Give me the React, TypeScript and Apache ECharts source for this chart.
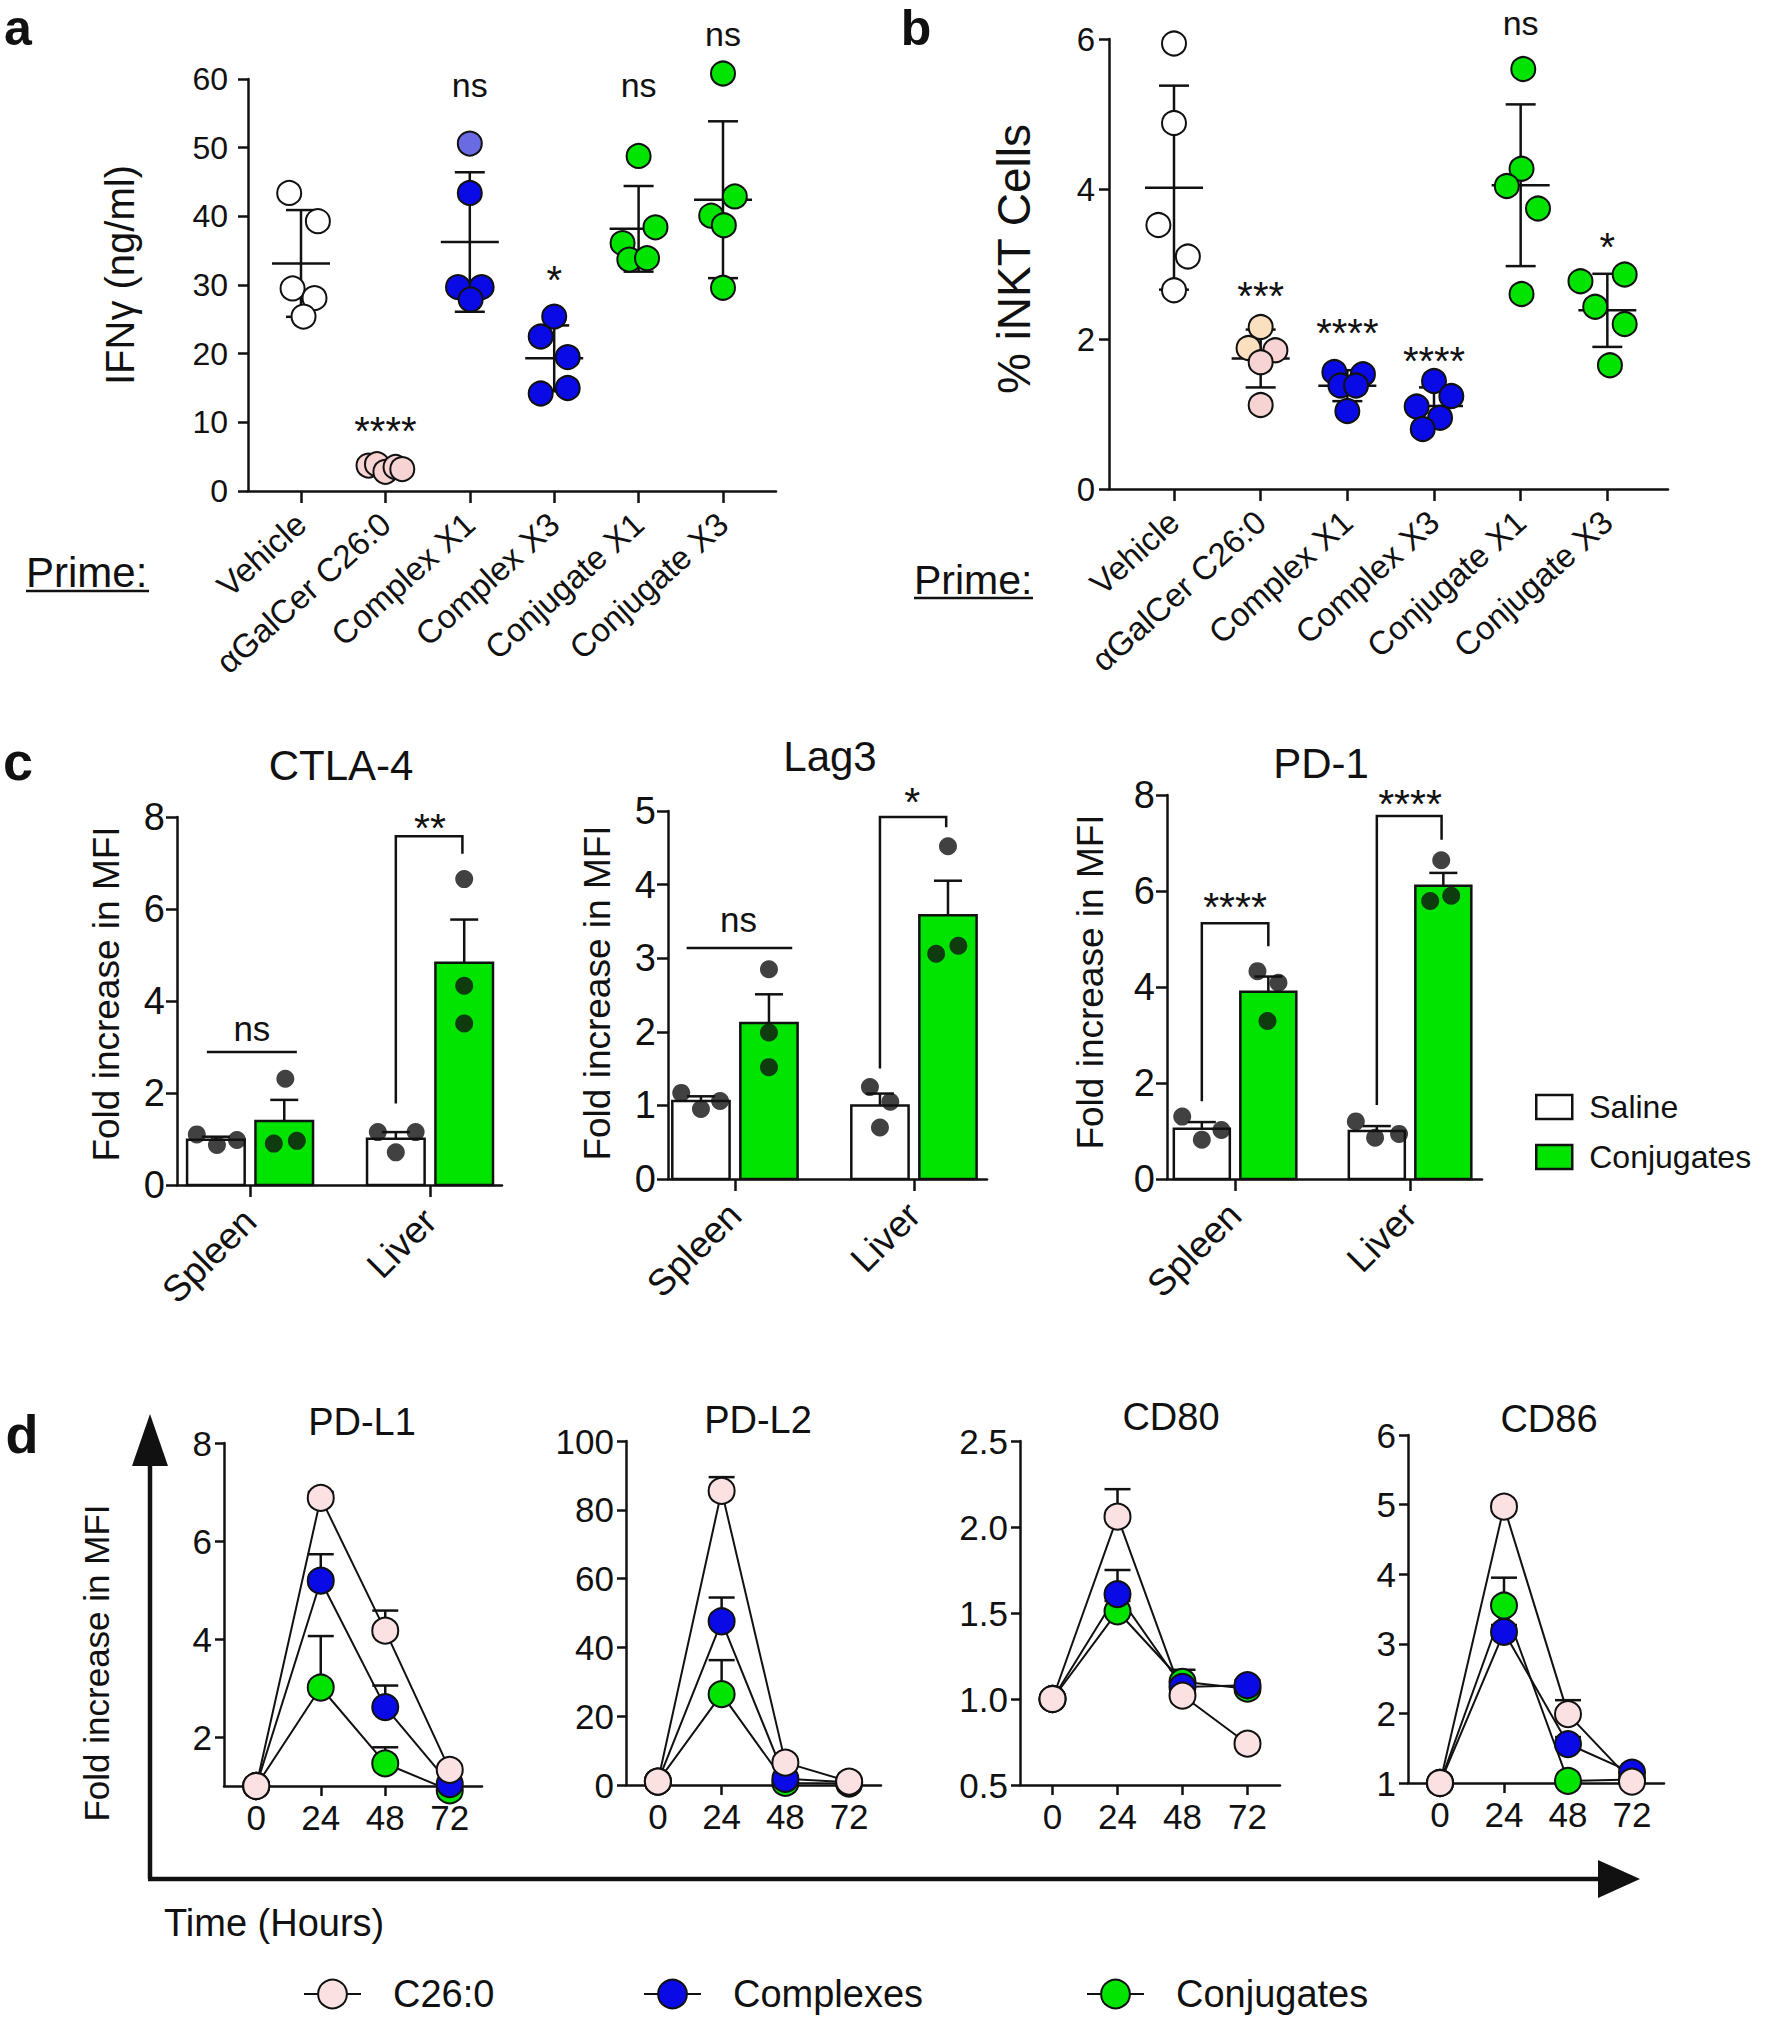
import React, { useEffect, useRef } from 'react';
import * as echarts from 'echarts';

const FONT = '"Liberation Sans", Arial, Helvetica, sans-serif';
const BLACK = '#111111';
const GREEN = '#00e400';
const BLUE = '#0a0ae6';
const LIGHT_BLUE = '#6a6ae2';
const PINK = '#fbe1e1';
const GALCER_PINK = '#f7d3d3';
const CREAM = '#fbe0bf';

// ===== Panel a : IFNγ (ng/ml) =====
const primeCategories = ['Vehicle', 'αGalCer C26:0', 'Complex X1', 'Complex X3', 'Conjugate X1', 'Conjugate X3'];
const ifngVehicle = [43.4, 39.3, 29.5, 28.1, 25.4];
const ifngGalCer = [3.7, 3.9, 2.8, 3.5, 3.2];
const ifngComplexX1 = [50.6, 43.4, 29.7, 29.7, 27.9];
const ifngComplexX3 = [25.4, 22.5, 19.5, 15.0, 14.2];
const ifngConjugateX1 = [48.8, 38.4, 36.1, 33.7, 33.9];
const ifngConjugateX3 = [60.8, 42.9, 40.1, 38.7, 29.6];
const ifngJitter = [
  [-0.14, 0.2, -0.1, 0.16, 0.03],
  [-0.2, -0.1, 0.0, 0.12, 0.2],
  [0, 0, -0.14, 0.14, 0.01],
  [0, -0.16, 0.16, 0.16, -0.16],
  [0, 0.2, -0.19, -0.11, 0.1],
  [0, 0.14, -0.14, 0.01, 0],
];
const ifngSigText = ['****', 'ns', '*', 'ns', 'ns'];
const ifngSigAt = [[1, 10.0], [2, 59.1], [3, 32.0], [4, 59.1], [5, 66.5]];

// ===== Panel b : % iNKT cells =====
const inktVehicle = [5.94, 4.88, 3.52, 3.1, 2.65];
const inktGalCer = [2.16, 1.88, 1.85, 1.69, 1.12];
const inktComplexX1 = [1.56, 1.53, 1.38, 1.38, 1.04];
const inktComplexX3 = [1.44, 1.24, 1.1, 0.95, 0.8];
const inktConjugateX1 = [5.6, 4.27, 4.04, 3.74, 2.6];
const inktConjugateX3 = [2.77, 2.86, 2.43, 2.2, 1.65];
const inktJitter = [
  [0, 0, -0.18, 0.16, 0],
  [0, -0.14, 0.17, 0, 0],
  [-0.15, 0.18, -0.08, 0.1, 0],
  [0, 0.2, -0.2, 0.07, -0.13],
  [0.03, 0.01, -0.16, 0.2, 0.01],
  [-0.31, 0.2, -0.14, 0.2, 0.03],
];
const inktSigText = ['***', '****', '****', 'ns', '*'];
const inktSigAt = [[1, 2.69], [2, 2.2], [3, 1.82], [4, 6.22], [5, 3.34]];

// ===== Panel c : fold increase in MFI (Saline vs Conjugates) =====
const tissues = ['Spleen', 'Liver'];
const ctla4SpleenSaline = [1.1, 0.87, 0.98];
const ctla4SpleenConj = [2.31, 0.9, 0.96];
const ctla4LiverSaline = [1.15, 0.71, 1.15];
const ctla4LiverConj = [6.65, 4.33, 3.51];
const ctla4Jitter = [[-0.106, 0.006, 0.117], [0.006, -0.058, 0.07], [-0.1, 0.0, 0.11], [0, 0, 0]];
const ctla4Brackets = [[0.81, 1.77, 7.58, 1.18, 7.2]];
const ctla4NsLines = [[-0.24, 0.26, 2.89]];
const ctla4SigText = ['ns', '**'];
const ctla4SigAt = [[0.01, 3.4], [1.0, 7.96]];

const lag3SpleenSaline = [1.17, 0.95, 1.06];
const lag3SpleenConj = [2.85, 1.99, 1.52];
const lag3LiverSaline = [1.25, 0.7, 1.05];
const lag3LiverConj = [4.52, 3.06, 3.17];
const lag3Jitter = [[-0.11, 0, 0.107], [0, 0, 0], [-0.056, 0, 0.058], [0, -0.066, 0.058]];
const lag3Brackets = [[0.81, 1.5, 4.92, 1.18, 4.78]];
const lag3NsLines = [[-0.27, 0.32, 3.14]];
const lag3SigText = ['ns', '*'];
const lag3SigAt = [[0.02, 3.52], [0.99, 5.25]];

const pd1SpleenSaline = [1.3, 0.82, 1.02];
const pd1SpleenConj = [4.33, 4.09, 3.29];
const pd1LiverSaline = [1.2, 0.86, 0.94];
const pd1LiverConj = [6.64, 5.79, 5.9];
const pd1Jitter = [[-0.112, 0, 0.112], [-0.062, 0.058, -0.005], [-0.12, -0.01, 0.127], [-0.012, -0.075, 0.045]];
const pd1Brackets = [[-0.19, 1.62, 5.33, 0.19, 4.85], [0.81, 1.54, 7.56, 1.18, 7.07]];
const pd1NsLines: number[][] = [];
const pd1SigText = ['****', '****'];
const pd1SigAt = [[0, 5.85], [1.0, 8.0]];

// ===== Panel d : time course (mean, SEM) =====
const hours = ['0', '24', '48', '72'];
const pdl1C26 = [1, 6.88, 4.17, 1.33];
const pdl1C26Err = [0, 0.12, 0.41, 0.08];
const pdl1Complexes = [1, 5.19, 2.61, 1.04];
const pdl1ComplexesErr = [0, 0.54, 0.44, 0.05];
const pdl1Conjugates = [1, 3.01, 1.46, 0.91];
const pdl1ConjugatesErr = [0, 1.05, 0.33, 0.05];

const pdl2C26 = [1, 85.5, 6.5, 1];
const pdl2C26Err = [0, 4, 1, 0];
const pdl2Complexes = [1, 47.6, 1.8, 0.8];
const pdl2ComplexesErr = [0, 6.9, 0.5, 0];
const pdl2Conjugates = [1, 26.4, 0.6, 0.4];
const pdl2ConjugatesErr = [0, 9.9, 0.3, 0];

const cd80C26 = [1, 2.06, 1.02, 0.74];
const cd80C26Err = [0, 0.16, 0.03, 0.02];
const cd80Complexes = [1, 1.61, 1.07, 1.08];
const cd80ComplexesErr = [0, 0.14, 0.04, 0.03];
const cd80Conjugates = [1, 1.51, 1.1, 1.06];
const cd80ConjugatesErr = [0, 0.06, 0.07, 0.03];

const cd86C26 = [1, 4.97, 1.99, 1.02];
const cd86C26Err = [0, 0.05, 0.2, 0.02];
const cd86Complexes = [1, 3.17, 1.56, 1.15];
const cd86ComplexesErr = [0, 0.1, 0.1, 0.03];
const cd86Conjugates = [1, 3.55, 1.03, 1.05];
const cd86ConjugatesErr = [0, 0.4, 0.02, 0.02];

// ---------- helpers ----------
function mean(a: number[]): number {
  return a.reduce((s, v) => s + v, 0) / a.length;
}
function sd(a: number[]): number {
  const m = mean(a);
  return Math.sqrt(a.reduce((s, v) => s + (v - m) * (v - m), 0) / (a.length - 1));
}
function sem(a: number[]): number {
  return sd(a) / Math.sqrt(a.length);
}
const font = (size: number, bold = false) => `${bold ? 'bold ' : ''}${size}px ${FONT}`;

function buildOption() {
  const grid: any[] = [];
  const xAxis: any[] = [];
  const yAxis: any[] = [];
  const series: any[] = [];
  const graphic: any[] = [];
  const legend: any[] = [];

  const axisLine = { show: true, onZero: false, lineStyle: { color: BLACK, width: 2.5 } };
  const tick = (length: number, extra: any = {}) => ({
    show: true,
    inside: false,
    length,
    lineStyle: { color: BLACK, width: 2.5 },
    ...extra,
  });
  const label = (fontSize: number, margin: number, extra: any = {}) => ({
    show: true,
    color: BLACK,
    fontSize,
    fontFamily: FONT,
    margin,
    ...extra,
  });
  const noSplit = { show: false };
  const addGrid = (g: any) => {
    grid.push({ ...g, containLabel: false, outerBoundsMode: 'none', show: false });
    return grid.length - 1;
  };
  const lineEl = (x1: number, y1: number, x2: number, y2: number, w = 2.5) => ({
    type: 'line',
    shape: { x1, y1, x2, y2 },
    style: { stroke: BLACK, lineWidth: w, fill: null },
  });
  const textSeries = (xi: number, yi: number, at: number[][], texts: string[], size: number) => ({
    type: 'custom',
    xAxisIndex: xi,
    yAxisIndex: yi,
    z: 6,
    silent: true,
    clip: false,
    data: at,
    renderItem: (params: any, api: any) => {
      const p = api.coord([api.value(0), api.value(1)]);
      const t = texts[params.dataIndex];
      const star = t.charAt(0) === '*';
      const fs = star ? size + 6 : size;
      return {
        type: 'text',
        x: p[0],
        y: p[1] + (star ? fs * 0.22 : 0),
        style: { text: t, textAlign: 'center', textVerticalAlign: 'middle', font: font(fs), fill: BLACK },
      };
    },
  });

  // ---------- scatter (panels a, b) ----------
  const scatterPanel = (cfg: any) => {
    const gi = addGrid(cfg.grid);
    const idx = cfg.categories.map((_: string, i: number) => i);
    const xi =
      xAxis.push({
        gridIndex: gi,
        type: 'value',
        min: cfg.xMin,
        max: cfg.xMax,
        axisLine,
        axisTick: tick(12, { customValues: idx }),
        axisLabel: label(33, cfg.labelMargin, {
          rotate: 42,
          customValues: idx,
          formatter: (v: number) => cfg.categories[Math.round(v)] ?? '',
        }),
        splitLine: noSplit,
      }) - 1;
    const yi =
      yAxis.push({
        gridIndex: gi,
        type: 'value',
        min: cfg.yMin,
        max: cfg.yMax,
        interval: cfg.yInterval,
        axisLine,
        axisTick: tick(10),
        axisLabel: label(cfg.yFont, cfg.yMargin),
        splitLine: noSplit,
      }) - 1;
    series.push({
      type: 'custom',
      xAxisIndex: xi,
      yAxisIndex: yi,
      z: 1,
      silent: true,
      clip: false,
      data: cfg.groups.map((g: number[], i: number) => [i, mean(g), mean(g) - sd(g), mean(g) + sd(g)]),
      renderItem: (_p: any, api: any) => {
        const x = api.value(0);
        const m = api.coord([x, api.value(1)]);
        const lo = api.coord([x, api.value(2)]);
        const hi = api.coord([x, api.value(3)]);
        return {
          type: 'group',
          children: [
            lineEl(m[0], lo[1], m[0], hi[1]),
            lineEl(m[0] - 15, lo[1], m[0] + 15, lo[1]),
            lineEl(m[0] - 15, hi[1], m[0] + 15, hi[1]),
            lineEl(m[0] - 29, m[1], m[0] + 29, m[1]),
          ],
        };
      },
    });
    cfg.groups.forEach((g: number[], i: number) => {
      series.push({
        type: 'scatter',
        xAxisIndex: xi,
        yAxisIndex: yi,
        z: 2,
        symbol: 'circle',
        symbolSize: cfg.symbolSize,
        clip: false,
        itemStyle: { borderColor: BLACK, borderWidth: 2, opacity: 1 },
        data: g.map((v, j) => ({ value: [i + cfg.jitter[i][j], v], itemStyle: { color: cfg.colors[i][j] } })),
      });
    });
    series.push(textSeries(xi, yi, cfg.sigAt, cfg.sigText, 34));
  };

  // ---------- bars (panel c) ----------
  const OFF = 0.19;
  const BAR_W = 0.32;
  const barPanel = (cfg: any) => {
    const gi = addGrid(cfg.grid);
    const xi =
      xAxis.push({
        gridIndex: gi,
        type: 'value',
        min: cfg.xMin,
        max: cfg.xMax,
        axisLine,
        axisTick: tick(12, { customValues: [0, 1] }),
        axisLabel: label(37, cfg.labelMargin, {
          rotate: 45,
          customValues: [0, 1],
          formatter: (v: number) => tissues[Math.round(v)] ?? '',
        }),
        splitLine: noSplit,
      }) - 1;
    const yi =
      yAxis.push({
        gridIndex: gi,
        type: 'value',
        min: 0,
        max: cfg.yMax,
        interval: cfg.yInterval,
        axisLine,
        axisTick: tick(11),
        axisLabel: label(38, 12),
        splitLine: noSplit,
      }) - 1;
    const barRender = (fill: string) => (_p: any, api: any) => {
      const x = api.value(0);
      const v = api.value(1);
      const p1 = api.coord([x - BAR_W / 2, v]);
      const p2 = api.coord([x + BAR_W / 2, 0]);
      return {
        type: 'rect',
        shape: { x: p1[0], y: p1[1], width: p2[0] - p1[0], height: p2[1] - p1[1] },
        style: { fill, stroke: BLACK, lineWidth: 2.5 },
      };
    };
    const sal = [cfg.spleenSaline, cfg.liverSaline];
    const con = [cfg.spleenConj, cfg.liverConj];
    series.push({
      type: 'custom',
      name: 'Saline',
      xAxisIndex: xi,
      yAxisIndex: yi,
      z: 1,
      silent: true,
      itemStyle: { color: '#ffffff', borderColor: BLACK, borderWidth: 2.5 },
      data: sal.map((g: number[], i: number) => [i - OFF, mean(g)]),
      renderItem: barRender('#ffffff'),
    });
    series.push({
      type: 'custom',
      name: 'Conjugates',
      xAxisIndex: xi,
      yAxisIndex: yi,
      z: 1,
      silent: true,
      itemStyle: { color: GREEN, borderColor: BLACK, borderWidth: 2.5 },
      data: con.map((g: number[], i: number) => [i + OFF, mean(g)]),
      renderItem: barRender(GREEN),
    });
    const all: [number, number[]][] = [
      [-OFF, cfg.spleenSaline],
      [OFF, cfg.spleenConj],
      [1 - OFF, cfg.liverSaline],
      [1 + OFF, cfg.liverConj],
    ];
    series.push({
      type: 'custom',
      xAxisIndex: xi,
      yAxisIndex: yi,
      z: 2,
      silent: true,
      clip: false,
      data: all.map(([x, g]) => [x, mean(g), mean(g) + sem(g)]),
      renderItem: (_p: any, api: any) => {
        const x = api.value(0);
        const m = api.coord([x, api.value(1)]);
        const hi = api.coord([x, api.value(2)]);
        return {
          type: 'group',
          children: [lineEl(m[0], m[1], m[0], hi[1]), lineEl(m[0] - 14, hi[1], m[0] + 14, hi[1])],
        };
      },
    });
    series.push({
      type: 'scatter',
      xAxisIndex: xi,
      yAxisIndex: yi,
      z: 3,
      symbol: 'circle',
      symbolSize: 18,
      clip: false,
      itemStyle: { color: BLACK },
      data: all.flatMap(([x, g], k) => g.map((v, j) => [x + cfg.jitter[k][j], v])),
    });
    series.push({
      type: 'custom',
      xAxisIndex: xi,
      yAxisIndex: yi,
      z: 4,
      silent: true,
      clip: false,
      data: cfg.brackets,
      renderItem: (_p: any, api: any) => {
        const xl = api.value(0);
        const y0 = api.value(1);
        const yt = api.value(2);
        const xr = api.value(3);
        const y1 = api.value(4);
        return {
          type: 'polyline',
          shape: { points: [api.coord([xl, y0]), api.coord([xl, yt]), api.coord([xr, yt]), api.coord([xr, y1])] },
          style: { stroke: BLACK, lineWidth: 2.5, fill: null },
        };
      },
    });
    if (cfg.nsLines.length) {
      series.push({
        type: 'custom',
        xAxisIndex: xi,
        yAxisIndex: yi,
        z: 4,
        silent: true,
        clip: false,
        data: cfg.nsLines,
        renderItem: (_p: any, api: any) => {
          const a = api.coord([api.value(0), api.value(2)]);
          const b = api.coord([api.value(1), api.value(2)]);
          return lineEl(a[0], a[1], b[0], b[1]);
        },
      });
    }
    series.push(textSeries(xi, yi, cfg.sigAt, cfg.sigText, 35));
  };

  // ---------- lines (panel d) ----------
  const linePanel = (cfg: any) => {
    const gi = addGrid(cfg.grid);
    const xi =
      xAxis.push({
        gridIndex: gi,
        type: 'category',
        data: hours,
        boundaryGap: true,
        axisLine,
        axisTick: tick(10, { alignWithLabel: true }),
        axisLabel: label(35, 14, { interval: 0 }),
        splitLine: noSplit,
      }) - 1;
    const yExtra: any = {};
    if (cfg.yInterval) yExtra.interval = cfg.yInterval;
    const yi =
      yAxis.push({
        gridIndex: gi,
        type: 'value',
        min: cfg.yMin,
        max: cfg.yMax,
        ...yExtra,
        axisLine,
        axisTick: tick(9, cfg.yTicks ? { customValues: cfg.yTicks } : {}),
        axisLabel: label(35, 12, {
          ...(cfg.yTicks ? { customValues: cfg.yTicks } : {}),
          ...(cfg.yFormatter ? { formatter: cfg.yFormatter } : {}),
        }),
        splitLine: noSplit,
      }) - 1;
    const sets = [
      { name: 'Conjugates (d)', mean: cfg.conj, err: cfg.conjErr, color: GREEN },
      { name: 'Complexes', mean: cfg.cplx, err: cfg.cplxErr, color: BLUE },
      { name: 'C26:0', mean: cfg.c26, err: cfg.c26Err, color: PINK },
    ];
    series.push({
      type: 'custom',
      xAxisIndex: xi,
      yAxisIndex: yi,
      z: 1,
      silent: true,
      clip: false,
      data: sets.flatMap((s) =>
        s.mean.map((m: number, t: number) => [t, m, m + s.err[t]]).filter((d: number[]) => d[2] > d[1])
      ),
      renderItem: (_p: any, api: any) => {
        const x = api.value(0);
        const m = api.coord([x, api.value(1)]);
        const hi = api.coord([x, api.value(2)]);
        return {
          type: 'group',
          children: [lineEl(m[0], m[1], m[0], hi[1]), lineEl(m[0] - 13, hi[1], m[0] + 13, hi[1])],
        };
      },
    });
    sets.forEach((s) =>
      series.push({
        type: 'line',
        name: s.name,
        xAxisIndex: xi,
        yAxisIndex: yi,
        z: 2,
        clip: false,
        data: s.mean,
        symbol: 'circle',
        symbolSize: 26,
        showSymbol: true,
        lineStyle: { color: BLACK, width: 2 },
        itemStyle: { color: s.color, borderColor: BLACK, borderWidth: 2 },
      })
    );
  };

  // ===== Panel a =====
  scatterPanel({
    grid: { left: 248, top: 79, width: 528, height: 412 },
    xMin: -0.628,
    xMax: 5.628,
    yMin: 0,
    yMax: 60,
    yInterval: 10,
    yFont: 32,
    yMargin: 20,
    labelMargin: 28,
    categories: primeCategories,
    groups: [ifngVehicle, ifngGalCer, ifngComplexX1, ifngComplexX3, ifngConjugateX1, ifngConjugateX3],
    jitter: ifngJitter,
    symbolSize: 24,
    colors: [
      Array(5).fill('#ffffff'),
      Array(5).fill(GALCER_PINK),
      [LIGHT_BLUE, BLUE, BLUE, BLUE, BLUE],
      Array(5).fill(BLUE),
      Array(5).fill(GREEN),
      Array(5).fill(GREEN),
    ],
    sigAt: ifngSigAt,
    sigText: ifngSigText,
  });

  // ===== Panel b =====
  scatterPanel({
    grid: { left: 1109, top: 39, width: 559, height: 450 },
    xMin: -0.75,
    xMax: 5.7,
    yMin: 0,
    yMax: 6,
    yInterval: 2,
    yFont: 33,
    yMargin: 14,
    labelMargin: 28,
    categories: primeCategories,
    groups: [inktVehicle, inktGalCer, inktComplexX1, inktComplexX3, inktConjugateX1, inktConjugateX3],
    jitter: inktJitter,
    symbolSize: 24,
    colors: [
      Array(5).fill('#ffffff'),
      [CREAM, CREAM, GALCER_PINK, GALCER_PINK, GALCER_PINK],
      Array(5).fill(BLUE),
      Array(5).fill(BLUE),
      Array(5).fill(GREEN),
      Array(5).fill(GREEN),
    ],
    sigAt: inktSigAt,
    sigText: inktSigText,
  });

  // ===== Panel c =====
  barPanel({
    grid: { left: 177, top: 817, width: 325, height: 368 },
    xMin: -0.406,
    xMax: 1.4,
    yMax: 8,
    yInterval: 2,
    labelMargin: 30,
    spleenSaline: ctla4SpleenSaline,
    spleenConj: ctla4SpleenConj,
    liverSaline: ctla4LiverSaline,
    liverConj: ctla4LiverConj,
    jitter: ctla4Jitter,
    brackets: ctla4Brackets,
    nsLines: ctla4NsLines,
    sigText: ctla4SigText,
    sigAt: ctla4SigAt,
  });
  barPanel({
    grid: { left: 668, top: 811, width: 319, height: 368 },
    xMin: -0.374,
    xMax: 1.408,
    yMax: 5,
    yInterval: 1,
    labelMargin: 30,
    spleenSaline: lag3SpleenSaline,
    spleenConj: lag3SpleenConj,
    liverSaline: lag3LiverSaline,
    liverConj: lag3LiverConj,
    jitter: lag3Jitter,
    brackets: lag3Brackets,
    nsLines: lag3NsLines,
    sigText: lag3SigText,
    sigAt: lag3SigAt,
  });
  barPanel({
    grid: { left: 1167, top: 795, width: 315, height: 384 },
    xMin: -0.389,
    xMax: 1.411,
    yMax: 8,
    yInterval: 2,
    labelMargin: 30,
    spleenSaline: pd1SpleenSaline,
    spleenConj: pd1SpleenConj,
    liverSaline: pd1LiverSaline,
    liverConj: pd1LiverConj,
    jitter: pd1Jitter,
    brackets: pd1Brackets,
    nsLines: pd1NsLines,
    sigText: pd1SigText,
    sigAt: pd1SigAt,
  });

  // ===== Panel d =====
  linePanel({
    grid: { left: 224, top: 1443, width: 258, height: 343 },
    yMin: 1,
    yMax: 8,
    yTicks: [2, 4, 6, 8],
    c26: pdl1C26, c26Err: pdl1C26Err,
    cplx: pdl1Complexes, cplxErr: pdl1ComplexesErr,
    conj: pdl1Conjugates, conjErr: pdl1ConjugatesErr,
  });
  linePanel({
    grid: { left: 626, top: 1441, width: 255, height: 344 },
    yMin: 0,
    yMax: 100,
    yInterval: 20,
    c26: pdl2C26, c26Err: pdl2C26Err,
    cplx: pdl2Complexes, cplxErr: pdl2ComplexesErr,
    conj: pdl2Conjugates, conjErr: pdl2ConjugatesErr,
  });
  linePanel({
    grid: { left: 1020, top: 1441, width: 260, height: 344 },
    yMin: 0.5,
    yMax: 2.5,
    yInterval: 0.5,
    yFormatter: (v: number) => v.toFixed(1),
    c26: cd80C26, c26Err: cd80C26Err,
    cplx: cd80Complexes, cplxErr: cd80ComplexesErr,
    conj: cd80Conjugates, conjErr: cd80ConjugatesErr,
  });
  linePanel({
    grid: { left: 1408, top: 1435, width: 256, height: 348 },
    yMin: 1,
    yMax: 6,
    yInterval: 1,
    c26: cd86C26, c26Err: cd86C26Err,
    cplx: cd86Complexes, cplxErr: cd86ComplexesErr,
    conj: cd86Conjugates, conjErr: cd86ConjugatesErr,
  });

  // ===== legends =====
  legend.push({
    orient: 'vertical',
    left: 1530,
    top: 1086,
    itemWidth: 36,
    itemHeight: 24,
    itemGap: 18,
    selectedMode: false,
    textStyle: { fontSize: 32, fontFamily: FONT, color: BLACK, padding: [0, 0, 0, 12] },
    data: [
      { name: 'Saline', icon: 'rect', itemStyle: { color: '#ffffff', borderColor: BLACK, borderWidth: 2.5 } },
      { name: 'Conjugates', icon: 'rect', itemStyle: { color: GREEN, borderColor: BLACK, borderWidth: 2.5 } },
    ],
  });
  const dLegend = (name: string, left: number, shown: string) => ({
    left,
    top: 1970,
    itemWidth: 57,
    itemHeight: 36,
    selectedMode: false,
    formatter: () => shown,
    textStyle: { fontSize: 38, fontFamily: FONT, color: BLACK, padding: [0, 0, 0, 27] },
    data: [name],
  });
  legend.push(dLegend('C26:0', 298, 'C26:0'));
  legend.push(dLegend('Complexes', 638, 'Complexes'));
  legend.push(dLegend('Conjugates (d)', 1081, 'Conjugates'));

  // ===== graphic texts =====
  const gText = (text: string, x: number, y: number, size: number, opts: any = {}) => ({
    type: 'text',
    x,
    y,
    rotation: opts.rot ?? 0,
    silent: true,
    style: {
      text,
      font: font(size, !!opts.bold),
      fill: BLACK,
      textAlign: opts.align ?? 'center',
      textVerticalAlign: 'middle',
    },
  });
  graphic.push(gText('a', 18, 28, 50, { bold: true }));
  graphic.push(gText('b', 916, 28, 50, { bold: true }));
  graphic.push(gText('c', 18, 761, 54, { bold: true }));
  graphic.push(gText('d', 22, 1434, 54, { bold: true }));

  graphic.push(gText('IFNγ (ng/ml)', 120, 275, 40, { rot: Math.PI / 2 }));
  graphic.push(gText('% iNKT Cells', 1014, 259, 46, { rot: Math.PI / 2 }));
  graphic.push(gText('Prime:', 26, 572, 42, { align: 'left' }));
  graphic.push({ type: 'line', shape: { x1: 26, y1: 591, x2: 149, y2: 591 }, style: { stroke: BLACK, lineWidth: 2.5 } });
  graphic.push(gText('Prime:', 914, 580, 41, { align: 'left' }));
  graphic.push({ type: 'line', shape: { x1: 914, y1: 598, x2: 1033, y2: 598 }, style: { stroke: BLACK, lineWidth: 2.5 } });

  graphic.push(gText('CTLA-4', 341, 765, 42));
  graphic.push(gText('Lag3', 830, 756, 42));
  graphic.push(gText('PD-1', 1321, 763, 42));
  graphic.push(gText('Fold increase in MFI', 106, 994, 37, { rot: Math.PI / 2 }));
  graphic.push(gText('Fold increase in MFI', 597, 993, 37, { rot: Math.PI / 2 }));
  graphic.push(gText('Fold increase in MFI', 1090, 982, 37, { rot: Math.PI / 2 }));

  graphic.push(gText('PD-L1', 362, 1422, 38));
  graphic.push(gText('PD-L2', 758, 1420, 38));
  graphic.push(gText('CD80', 1171, 1417, 38));
  graphic.push(gText('CD86', 1549, 1419, 38));
  graphic.push(gText('Fold increase in MFI', 96, 1663, 35, { rot: Math.PI / 2 }));
  graphic.push(gText('Time (Hours)', 164, 1923, 38, { align: 'left' }));

  // big time / fold arrows
  graphic.push({ type: 'line', shape: { x1: 150, y1: 1879, x2: 150, y2: 1460 }, style: { stroke: BLACK, lineWidth: 4.5 } });
  graphic.push({ type: 'polygon', shape: { points: [[150, 1414], [132, 1466], [168, 1466]] }, style: { fill: BLACK } });
  graphic.push({ type: 'line', shape: { x1: 148, y1: 1879, x2: 1605, y2: 1879 }, style: { stroke: BLACK, lineWidth: 4.5 } });
  graphic.push({ type: 'polygon', shape: { points: [[1640, 1879], [1598, 1860], [1598, 1898]] }, style: { fill: BLACK } });

  return {
    animation: false,
    backgroundColor: '#ffffff',
    textStyle: { fontFamily: FONT },
    grid,
    xAxis,
    yAxis,
    series,
    legend,
    graphic: { elements: graphic },
  };
}

export default function App() {
  const ref = useRef<HTMLDivElement>(null);
  useEffect(() => {
    document.body.style.margin = '0';
    if (!ref.current) return;
    const chart = echarts.init(ref.current, null, { renderer: 'svg' });
    chart.setOption(buildOption() as any);
    return () => chart.dispose();
  }, []);
  return <div ref={ref} style={{ width: 1766, height: 2022 }} />;
}
